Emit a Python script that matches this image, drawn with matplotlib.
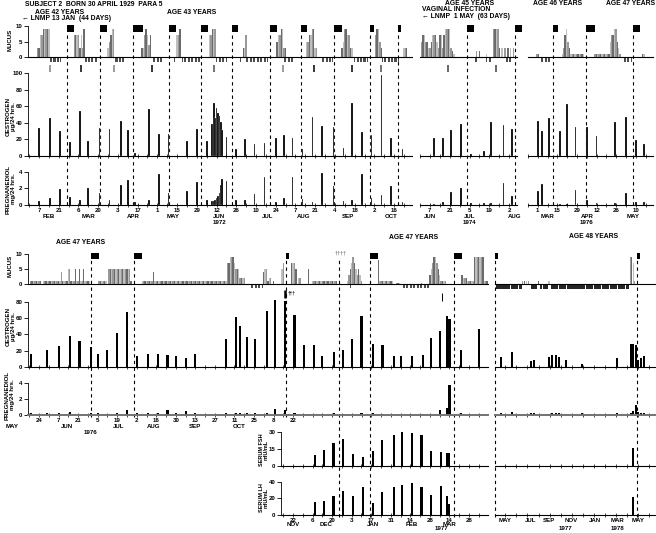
import numpy as np
import matplotlib.pyplot as plt
from matplotlib.transforms import blended_transform_factory as blend

plt.rcParams['font.family'] = ['Liberation Sans', 'DejaVu Sans']
plt.rcParams['font.weight'] = 'bold'
plt.rcParams['lines.dashed_pattern'] = [3, 3]

W, H = 656, 533
FS = 4.4
SHADES = ['0.6', '0.42', '0.75']

# ---------------- 1972 (days since 1 Jan 1972) ----------------
t1_days = [37, 45, 52, 59, 66, 72, 80, 87, 95, 100, 105, 115, 122, 129, 142, 149, 156,
           160, 161, 162, 163, 164, 165, 166, 167, 170, 177, 183, 190, 197, 205, 211,
           217, 224, 231, 238, 246, 253, 259, 266, 273, 280, 287, 295]
t1_oes = [34, 46, 30, 17, 54, 18, 34, 33, 42, 31, 4, 57, 27, 26, 18, 32, 18,
          38, 64, 46, 58, 52, 48, 41, 31, 23, 9, 20, 14, 16, 22, 25,
          22, 8, 47, 36, 35, 10, 64, 29, 25, 97, 22, 9]
t1_prg = [0.5, 0.8, 1.95, 0.95, 0.65, 2.05, 1.5, 0.65, 2.45, 3.0, 0.4, 0.65, 3.8, 1.5, 1.75, 2.8, 0.6,
          0.5, 0.5, 0.6, 0.8, 1.1, 1.5, 2.4, 3.2, 2.9, 0.6, 0.6, 1.3, 3.4, 0.4, 0.9,
          3.4, 0.7, 0.4, 3.9, 2.3, 0.5, 0.65, 3.7, 0.8, 1.2, 2.3, 0.35]
t1_mucus = [(36, [3, 3, 7, 7, 9, 9, 9, 9, 9]), (62, [7, 7, 7, 7, 3, 7, 3, 9]),
            (86, [3, 5, 7, 9, 9]), (110, [3, 3, 7, 9, 7, 4, 7]), (135, [7, 7, 9]),
            (158, [7, 7, 9, 9, 9]), (182, [3, 3, 7]), (206, [5, 7, 7, 9, 9, 3, 3]),
            (227, [5, 5, 7, 7, 9, 9, 3, 3]), (252, [3, 5, 9, 9, 7, 7, 3, 3]),
            (276, [7, 9, 9, 5, 3]), (296, [3, 3, 3])]
t1_dry = [(45, 52), (70, 78), (91, 98), (118, 125), (133, 133), (139, 151), (163, 170),
          (180, 180), (184, 199), (211, 217), (238, 245), (261, 270), (281, 292)]
t1_ovu = [45, 67, 90, 117, 161, 210, 232, 259, 280]
t1_ovu_col = ['0.5', 'k', '0.5', 'k', '0.3', '0.5', 'k', 'k', '0.3']
t1_men = [57, 80, 104, 129, 152, 174, 201, 223, 246, 272, 292]
t1_men_len = [5, 5, 7, 5, 5, 4, 5, 4, 6, 3, 2]
t1_lab_days = [37, 51, 65, 79, 93, 107, 121, 135, 149, 163, 177, 191, 205, 219, 233, 247, 261, 275, 289]
t1_lab = ['7', '21', '6', '20', '3', '17', '1', '15', '29', '12', '26', '10', '24', '7', '21', '4', '18', '2', '16']
t1_months = ['FEB', 'MAR', 'APR', 'MAY', 'JUN', 'JUL', 'AUG', 'SEP', 'OCT']
t1_month_days = [44, 72, 104, 132, 165, 199, 225, 256, 287]

# ---------------- 1974 ----------------
t2_days = [160, 166, 172, 179, 186, 195, 200, 209, 215]
t2_oes = [22, 22, 31, 39, 2, 6, 41, 37, 32]
t2_prg = [0.15, 0.35, 1.6, 2.1, 0.2, 0.2, 0.3, 2.7, 1.1]
t2_mucus = [(151, [5, 7, 7, 5, 5, 3, 3, 5, 7, 7, 7, 5, 3, 7, 7, 3, 7, 9, 9, 9, 9, 3, 2, 1]),
            (190, [2, 0, 2]), (197, [1]), (202, [9, 9, 9, 9]),
            (206, [3, 0, 3, 0, 3, 0, 3, 0, 3, 0, 3])]
t2_dry = [(189, 191), (197, 200), (211, 214)]
t2_ovu = [170, 204]
t2_men = [183, 217]
t2_men_len = [5, 5]
t2_lab_days = [157, 171, 185, 199, 213]
t2_lab = ['7', '21', '5', '19', '2']
t2_months = ['JUN', 'JUL', 'AUG']
t2_month_days = [157, 185, 217]

# ---------------- 1976 (spring) ----------------
t3_days = [60, 63, 68, 76, 81, 87, 95, 102, 115, 123, 130, 136]
t3_oes = [42, 30, 46, 30, 63, 35, 35, 24, 41, 47, 19, 15]
t3_prg = [1.7, 2.5, 0, 0.15, 0.15, 1.8, 0.6, 0.25, 0.25, 1.4, 0.35, 0.35]
t3_mucus = [(60, [1, 1]), (78, [1, 3, 7, 9, 5, 3]), (84, [1, 1, 1, 1, 1, 1, 1, 1, 1, 1]),
            (101, [1, 1, 1, 1, 1, 1, 1, 1, 1, 1, 1]), (112, [5, 7, 7, 9, 9, 5, 3, 1]),
            (135, [1, 1])]
t3_dry = [(63, 69), (121, 127)]
t3_men = [71, 95, 128]
t3_men_len = [4, 6, 5]
t3_lab_days = [60, 74, 88, 102, 116, 130]
t3_lab = ['1', '15', '29', '12', '26', '10']
t3_months = ['MAR', 'APR', 'MAY']
t3_month_days = [67, 95, 128]

# ---------------- 1976-77 (days since 1 Jan 1976) ----------------
b1_days = [138, 150, 158, 166, 173, 181, 186, 193, 200, 207, 214, 222, 229, 236, 242, 249, 256,
           278, 285, 288, 293, 299, 307, 313, 320, 327, 334, 341, 347, 355, 362, 368, 375,
           383, 390, 398, 403, 411, 419, 425, 431, 436, 438, 446, 459]
b1_oes = [16.4, 21, 26, 38.5, 31.5, 24, 16.4, 21, 42, 68, 14, 15.5, 16.5, 14.5, 13, 11, 15.5,
          34, 62, 50, 37.5, 34, 69.5, 82, 81, 64, 26.5, 26.5, 14, 18.4, 21, 34, 62.5,
          28.7, 26.5, 14, 14, 14, 15, 36, 44, 62.5, 59, 21, 47]
b1_prg = [0.3, 0.2, 0.2, 0.4, 0.15, 0.3, 0.2, 0.1, 0.25, 0.6, 0.3, 0.3, 0.3, 0.6, 0.3, 0.5, 0.2,
          0.2, 0.2, 0.25, 0.2, 0.2, 0.2, 0.75, 0.6, 0.2, 0.1, 0.15, 0.1, 0.2, 0.1, 0.15, 0.2,
          0.2, 0.1, 0.1, 0.1, 0.15, 0.15, 0.1, 0.6, 0.85, 3.7, 0.2, 0.15]
b1_mucus = [(138, [1] * 8 + [0] + [1] * 13 + [4, 1, 1, 1, 1, 5, 5, 1, 1, 1, 5, 1, 1, 5, 1, 1, 5, 1, 1, 1, 1]),
            (187, [1] * 6 + [0] + [5] * 16 + [1]),
            (218, [1] * 8 + [4] + [1] * 52),
            (279, [7, 7, 9, 9, 9, 7, 5, 5, 5, 2, 2, 2, 2]),
            (305, [4, 5, 5, 1, 2, 2, 0, 1]), (318, [5, 7]), (325, [7, 7, 7, 5, 0, 2, 2]),
            (337, [5]), (340, [1] * 18), (365, [1, 3, 5, 7, 9, 7, 5, 3, 5, 3, 1]),
            (387, [8] + [1] * 10), (400, [0.5, 0.5, 0.5]), (418, [0.5]),
            (424, [3, 5, 7, 9, 9, 7, 5, 3, 1, 1, 1, 1]), (447, [3, 2, 2, 2, 1, 1, 1, 1, 1]),
            (456, [9, 9, 9, 9, 9, 9, 9]), (463, [1, 1, 1])]
b1_dry = [(296, 304), (367, 367), (404, 423)]
b1_men = [181, 212, 321, 381, 441]
b1_men_len = [6, 6, 2, 6, 6]
b1_extra_dash = [359]
b1_lab_days = [144, 158, 172, 186, 200, 214, 228, 242, 256, 270, 284, 298, 312, 326]
b1_lab = ['24', '7', '21', '5', '19', '2', '16', '30', '13', '27', '11', '25', '8', '22']
b1_months = ['MAY', 'JUN', 'JUL', 'AUG', 'SEP', 'OCT']
b1_month_days = [125, 164, 201, 226, 256, 287]

h_days = [342, 348, 355, 362, 369, 376, 383, 390, 398, 404, 411, 418, 425, 432, 436, 438]
h_fsh = [9.7, 14, 20, 23.5, 10.3, 8.3, 13.5, 23, 27.4, 30.3, 29.4, 27.4, 13.3, 12.7, 11.8, 11.8]
h_lh = [16, 17, 23, 29.5, 23, 33.5, 14, 28, 33.5, 36, 39, 33.5, 24, 35, 23, 13]
h_lab_days = [326, 340, 354, 368, 382, 396, 410, 424, 438, 452]
h_lab = ['22', '6', '20', '3', '17', '31', '14', '28', '14', '28']
h_months = ['NOV', 'DEC', 'JAN', 'FEB', 'MAR']
h_month_days = [326, 350, 383, 411, 438]

# ---------------- 1977-78 (days since 1 Jan 1977) ----------------
r_days = [109, 139, 191, 200, 241, 249, 260, 268, 288, 331, 428, 466, 472, 480, 485, 494, 502]
r_oes = [11.8, 18.4, 7.5, 8, 12, 15, 15, 12, 8, 4, 11, 28.7, 28, 26.5, 8, 11, 14]
r_prg = [0.2, 0.4, 0.2, 0.3, 0.1, 0.3, 0.2, 0.2, 0.1, 0.2, 0.2, 0.3, 0.5, 1.2, 0.4, 0.3, 0.3]
r_hormone_days = [472]
r_fsh = [16]
r_lh = [22]
r_mucus_days = [169, 174, 179, 184, 211, 241, 464, 468, 472, 476]
r_mucus = [1, 1, 1, 1, 1, 1, 9, 9, 7, 1]
r_dry = [(96, 166), (189, 208), (216, 238), (246, 460)]
r_men = [93, 483]
r_men_len = [8, 8]
r_month_starts = [120, 151, 181, 212, 243, 273, 304, 334, 365, 396, 424, 455, 485, 516]
r_months = ['MAY', 'JUL', 'SEP', 'NOV', 'JAN', 'MAR', 'MAY']
r_month_days = [120, 191, 241, 301, 367, 430, 485]

fig = plt.figure(figsize=(W / 100, H / 100), dpi=100)


def make_ax(x0, x1, y0, y1, xlim, ymax, yticks=None):
    ax = fig.add_axes([x0 / W, 1 - y1 / H, (x1 - x0) / W, (y1 - y0) / H])
    ax.patch.set_visible(False)
    ax.set_xlim(*xlim)
    ax.set_ylim(0, ymax)
    for s in ('top', 'right'):
        ax.spines[s].set_visible(False)
    ax.spines['bottom'].set_linewidth(0.8)
    if yticks:
        ax.set_yticks(yticks)
        ax.spines['left'].set_bounds(yticks[0], yticks[-1])
        ax.spines['left'].set_linewidth(0.6)
    else:
        ax.set_yticks([])
        ax.spines['left'].set_visible(False)
    ax.tick_params(axis='y', length=3, width=0.6, labelsize=FS, pad=1)
    ax.set_xticks([])
    return ax


def set_dates(ax, weekly, lab_days=None, labels=None):
    if labels:
        ax.set_xticks(lab_days, labels)
        ax.set_xticks(weekly, minor=True)
    else:
        ax.set_xticks(weekly, [''] * len(weekly))
    ax.tick_params(axis='x', which='both', direction='inout', length=3, width=0.5,
                   labelsize=FS, pad=0.5)


def ftext(ax, d, ypx, s, **kw):
    ax.text(d, 1 - ypx / H, s, transform=blend(ax.transData, fig.transFigure),
            ha='center', va='center', fontsize=FS, clip_on=False, **kw)


def px_to_y(ax, ypx):
    return ax.transData.inverted().transform((0, H - ypx))[1]


def vdash(ax, days, y0, y1):
    # onset-of-menses lines running down through the stacked panels
    ax.vlines(days, px_to_y(ax, y1), px_to_y(ax, y0), colors='k', linewidth=0.8,
              linestyles='dashed', clip_on=False, zorder=5)


def draw_mucus(ax, segments, dry, width=1.0, dry_step=1):
    days, vals = [], []
    for start, v in segments:
        for i, val in enumerate(v):
            if val:
                days.append(start + i)
                vals.append(val)
    ax.bar(days, vals, width=width, color=[SHADES[i % 3] for i in range(len(days))], lw=0)
    for a, b in dry:
        d = np.arange(a, b + 1, dry_step)
        ax.bar(d, -1.2, bottom=-0.3, width=0.6 * dry_step, color='0.3', lw=0, clip_on=False)


def draw_menses(ax, starts, lens, bottom=8.1):
    ax.bar(starts, 2.2, width=lens, bottom=bottom, align='edge', color='k', lw=0, clip_on=False)


# ================= TOP BLOCK =================
top_panels = [
    (28, 412, (29.2, 301.7), True, t1_days, t1_oes, t1_prg, t1_mucus, t1_dry, t1_men, t1_men_len,
     t1_lab_days, t1_lab, t1_months, t1_month_days, np.arange(30, 302, 7), '1972', 165),
    (420, 517, (150, 218.5), False, t2_days, t2_oes, t2_prg, t2_mucus, t2_dry, t2_men, t2_men_len,
     t2_lab_days, t2_lab, t2_months, t2_month_days, np.arange(150, 219, 7), '1974', 185),
    (528, 653, (53.6, 142.3), False, t3_days, t3_oes, t3_prg, t3_mucus, t3_dry, t3_men, t3_men_len,
     t3_lab_days, t3_lab, t3_months, t3_month_days, np.arange(53, 143, 7), '1976', 95),
]
top_axes = []
for (x0, x1, xl, left, days, oes, prg, muc, dry, men, menl, ldays, labs, mons, mdays,
     weekly, year, yday) in top_panels:
    am = make_ax(x0, x1, 24, 57, xl, 10.65, [0, 5, 10] if left else None)
    draw_mucus(am, muc, dry)
    draw_menses(am, men, menl)
    ao = make_ax(x0, x1, 70, 156, xl, 103.6, [0, 20, 40, 60, 80, 100] if left else None)
    ao.bar(days, oes, width=1.2, color='k', edgecolor='white', lw=0.15)
    set_dates(ao, weekly)
    ap = make_ax(x0, x1, 170, 205, xl, 4.24, [0, 2, 4] if left else None)
    ap.bar(days, prg, width=1.2, color='k', edgecolor='white', lw=0.15)
    set_dates(ap, weekly, ldays, labs)
    for m, d in zip(mons, mdays):
        ftext(ap, d, 217, m)
    ftext(ap, yday, 222.5, year)
    vdash(am, men, 33, 205)
    top_axes.append((am, ao, ap))

top_axes[0][1].vlines(t1_ovu, 101, 110, colors=t1_ovu_col, lw=1.1, clip_on=False)
top_axes[1][1].vlines(t2_ovu, 101, 110, colors='0.25', lw=1.1, clip_on=False)

# ================= BOTTOM BLOCK =================
bx = (136.1, 465.6)
bm = make_ax(28, 488, 252, 284, bx, 10.67, [0, 5, 10])
draw_mucus(bm, b1_mucus, b1_dry)
draw_menses(bm, b1_men, b1_men_len, bottom=8.3)
bm.text(360, 10.2, '\u2020\u2020\u2020\u2020', color='0.5', fontsize=4, ha='center', va='center')

bo = make_ax(28, 488, 298, 367, bx, 84.9, [0, 20, 40, 60, 80])
bo.bar(b1_days, b1_oes, width=1.5, color='k', lw=0)
set_dates(bo, np.arange(137, 466, 7))
bo.vlines([320], 85, 95, colors='k', lw=1.8, clip_on=False)
bo.vlines([433], 81, 91, colors='k', lw=0.7, clip_on=False)
bo.text(322, 91, '\u2020\u2020\u2020', fontsize=3.6, ha='left', va='center')

bp = make_ax(28, 488, 381, 415, bx, 4.25, [0, 2, 4])
bp.bar(b1_days, b1_prg, width=1.5, color='k', lw=0)
bp.spines['bottom'].set_linewidth(1.4)
bp.spines['bottom'].set_color('0.45')
set_dates(bp, np.arange(137, 466, 7), b1_lab_days, b1_lab)
for m, d in zip(b1_months, b1_month_days):
    ftext(bp, d, 427, m)
ftext(bp, 181, 432, '1976')

hx = (317.4, 465.6)
hf = make_ax(281, 488, 430, 466, hx, 31.8, [0, 15, 30])
hf.bar(h_days, h_fsh, width=1.5, color='k', lw=0)
set_dates(hf, np.arange(319, 466, 7))
hl = make_ax(281, 488, 480, 515, hx, 42.4, [0, 20, 40])
hl.bar(h_days, h_lh, width=1.5, color='k', lw=0)
set_dates(hl, np.arange(319, 466, 7), h_lab_days, h_lab)
for m, d in zip(h_months, h_month_days):
    ftext(hl, d, 524, m)
ftext(hl, 432, 529, '1977')

vdash(bm, b1_men[:3], 260, 417)
vdash(bm, b1_men[3:] + b1_extra_dash, 260, 517)

# right block 1977-78
rx = (92.5, 532)
rm = make_ax(495, 655, 252, 284, rx, 10.67)
rm.bar(r_mucus_days, r_mucus, width=3.5, color=[SHADES[i % 3] for i in range(len(r_mucus))], lw=0)
for a, b in r_dry:
    rm.bar(np.arange(a, b + 1, 2), -1.3, bottom=-0.3, width=1.8, color='0.15', lw=0, clip_on=False)
draw_menses(rm, r_men, r_men_len, bottom=8.3)
ro = make_ax(495, 655, 298, 367, rx, 84.9)
ro.bar(r_days, r_oes, width=4.5, color='k', lw=0)
set_dates(ro, r_month_starts)
rp = make_ax(495, 655, 381, 415, rx, 4.25)
rp.bar(r_days, r_prg, width=4.5, color='k', lw=0)
rp.spines['bottom'].set_linewidth(1.4)
rp.spines['bottom'].set_color('0.45')
set_dates(rp, r_month_starts)
rf = make_ax(495, 655, 430, 466, rx, 31.8)
rf.bar(r_hormone_days, r_fsh, width=4.5, color='k', lw=0)
set_dates(rf, r_month_starts)
rl = make_ax(495, 655, 480, 515, rx, 42.4)
rl.bar(r_hormone_days, r_lh, width=4.5, color='k', lw=0)
set_dates(rl, r_month_starts)
for m, d in zip(r_months, r_month_days):
    ftext(rl, d, 520, m)
ftext(rl, 285, 529, '1977')
ftext(rl, 428, 529, '1978')
vdash(rm, r_men, 260, 517)

# ================= TEXT =================
def lab(xp, yp, s, **kw):
    kw.setdefault('ha', 'left')
    fig.text(xp / W, 1 - yp / H, s, va='center', fontsize=4.9, **kw)


lab(25, 5, 'SUBJECT 2  BORN 30 APRIL 1929  PARA 5')
lab(60, 12, 'AGE 42 YEARS', ha='center')
lab(22, 19, '\u2190 LNMP 13 JAN  (44 DAYS)')
lab(192, 12, 'AGE 43 YEARS', ha='center')
lab(470, 3.5, 'AGE 45 YEARS', ha='center')
lab(422, 9.5, 'VAGINAL INFECTION')
lab(422, 16, '\u2190 LNMP  1 MAY  (63 DAYS)')
lab(558, 3.5, 'AGE 46 YEARS', ha='center')
lab(631, 3.5, 'AGE 47 YEARS', ha='center')
lab(81, 243, 'AGE 47 YEARS', ha='center')
lab(414, 238, 'AGE 47 YEARS', ha='center')
lab(594, 237, 'AGE 48 YEARS', ha='center')


def ylab(xp, yp, s, fs=4.4):
    fig.text(xp / W, 1 - yp / H, s, rotation=90, ha='center', va='center',
             fontsize=fs, linespacing=1.05)


ylab(10, 40, 'MUCUS')
ylab(11, 117, 'OESTROGEN\n\u00b5g/24 hrs.')
ylab(11, 189, 'PREGNANEDIOL\nmg/24 hrs.')
ylab(10, 266, 'MUCUS')
ylab(11, 327, 'OESTROGEN\n\u00b5g/24 hrs.')
ylab(10, 395, 'PREGNANEDIOL\nmg/24 hrs.')
ylab(264, 450, 'SERUM FSH\nmIU/mL', fs=4.0)
ylab(264, 498, 'SERUM LH\nmIU/mL', fs=4.0)

fig.savefig('out.png', dpi=100)
